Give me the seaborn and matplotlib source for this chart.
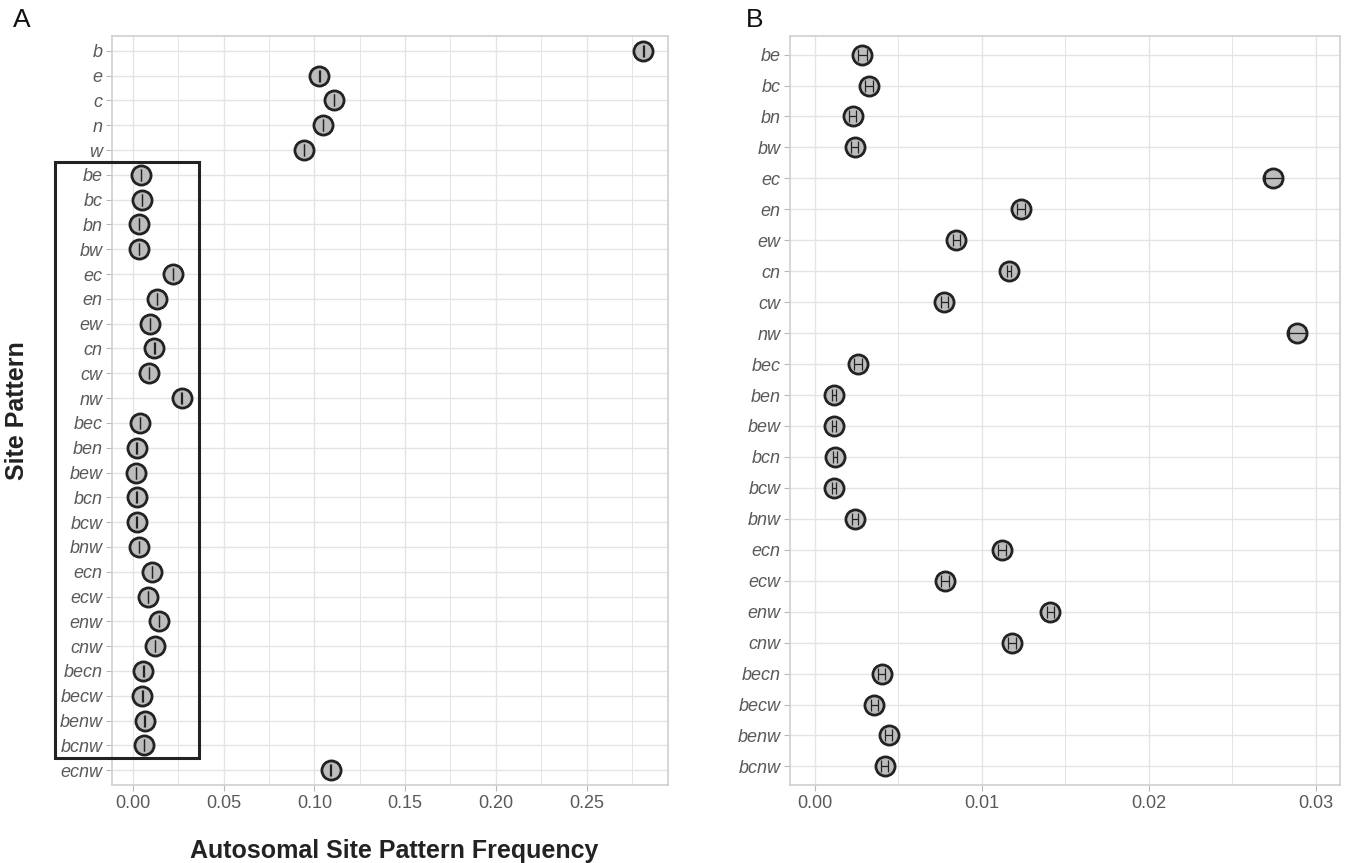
import numpy as np
import pandas as pd
import matplotlib
matplotlib.use("Agg")
import matplotlib.pyplot as plt
import matplotlib.transforms as mtransforms
from matplotlib.patches import Rectangle
from matplotlib.ticker import MultipleLocator
import seaborn as sns

# Panel A: all site patterns (autosomal)
patterns_a = ["b", "e", "c", "n", "w", "be", "bc", "bn", "bw", "ec", "en", "ew",
              "cn", "cw", "nw", "bec", "ben", "bew", "bcn", "bcw", "bnw", "ecn",
              "ecw", "enw", "cnw", "becn", "becw", "benw", "bcnw", "ecnw"]
freq_a = [0.2813, 0.1027, 0.1108, 0.1047, 0.0943, 0.0044, 0.0049, 0.0034, 0.0034,
          0.0222, 0.0131, 0.0094, 0.0118, 0.0089, 0.0268, 0.0039, 0.0020, 0.0017,
          0.0020, 0.0020, 0.0034, 0.0106, 0.0081, 0.0143, 0.0121, 0.0057, 0.0052,
          0.0064, 0.0059, 0.1089]
err_a = [0.0001] * 30

# Panel B: zoom on the boxed patterns
patterns_b = ["be", "bc", "bn", "bw", "ec", "en", "ew", "cn", "cw", "nw", "bec",
              "ben", "bew", "bcn", "bcw", "bnw", "ecn", "ecw", "enw", "cnw", "becn",
              "becw", "benw", "bcnw"]
freq_b = [0.00286, 0.00325, 0.00228, 0.00240, 0.02745, 0.01236, 0.00848, 0.01163,
          0.00775, 0.02890, 0.00259, 0.00116, 0.00116, 0.00124, 0.00116, 0.00242,
          0.01120, 0.00780, 0.01410, 0.01182, 0.00400, 0.00356, 0.00443, 0.00419]
err_b = [0.00025, 0.00025, 0.00022, 0.00022, 0.00050, 0.00022, 0.00020, 0.00010,
         0.00020, 0.00050, 0.00022, 0.00012, 0.00012, 0.00012, 0.00012, 0.00020,
         0.00025, 0.00022, 0.00020, 0.00022, 0.00022, 0.00020, 0.00022, 0.00022]

df_a = pd.DataFrame({"pattern": patterns_a, "freq": freq_a, "err": err_a})
df_b = pd.DataFrame({"pattern": patterns_b, "freq": freq_b, "err": err_b})
df_a["row"] = np.arange(len(df_a))
df_b["row"] = np.arange(len(df_b))

sns.set_theme(style="whitegrid")
plt.rcParams["font.family"] = ["Liberation Sans", "DejaVu Sans"]

fig = plt.figure(figsize=(13.5, 8.63), dpi=100)
W, H = 1350, 863
ax_a = fig.add_axes([112 / W, 1 - 785 / H, 556 / W, 749 / H])
ax_b = fig.add_axes([790 / W, 1 - 785 / H, 550 / W, 749 / H])

grid_col = "#e4e4e4"
text_col = "#595959"


def draw_panel(ax, df, xlim, major, minor):
    sns.scatterplot(data=df, x="freq", y="row", ax=ax, s=190, color="#bdbdbd",
                    edgecolor="#222222", linewidth=2.0, zorder=3, legend=False)
    ax.errorbar(df["freq"], df["row"], xerr=df["err"], fmt="none", ecolor="#222222",
                elinewidth=0.9, capsize=4.5, capthick=0.9, zorder=4)
    ax.set_yticks(df["row"])
    ax.set_yticklabels(df["pattern"], fontstyle="italic", color=text_col, fontsize=13)
    ax.set_ylim(len(df) - 0.4, -0.6)
    ax.set_xlim(*xlim)
    ax.xaxis.set_major_locator(MultipleLocator(major))
    ax.xaxis.set_minor_locator(MultipleLocator(minor))
    ax.xaxis.set_major_formatter(lambda v, p: f"{v:.2f}")
    ax.grid(which="major", color=grid_col, linewidth=1.0)
    ax.grid(which="minor", axis="x", color=grid_col, linewidth=0.7)
    ax.tick_params(axis="both", which="major", length=4, width=0.8, color="#b8b8b8",
                   labelsize=13, labelcolor=text_col, pad=3, left=True, bottom=True)
    ax.tick_params(which="minor", length=0)
    for sp in ax.spines.values():
        sp.set_color("#cfcfcf")
        sp.set_linewidth(1.2)
    ax.set_xlabel("")
    ax.set_ylabel("")


draw_panel(ax_a, df_a, (-0.0116, 0.2949), 0.05, 0.025)
draw_panel(ax_b, df_b, (-0.00148, 0.03145), 0.01, 0.005)

ax_a.set_ylabel("Site Pattern", fontsize=18, fontweight="bold", color="#222222")
ax_a.yaxis.set_label_coords(-0.149, 0.5)
ax_a.set_xlabel("Autosomal Site Pattern Frequency", fontsize=18, fontweight="bold",
                color="#222222")
ax_a.xaxis.set_label_coords(0.507, -0.072)

# box around the patterns shown in panel B
trans = mtransforms.blended_transform_factory(fig.transFigure, ax_a.transData)
box = Rectangle((55 / W, 4.5), 144 / W, 24, transform=trans, fill=False,
                edgecolor="#222222", linewidth=2.2, clip_on=False, zorder=5)
ax_a.add_patch(box)

fig.text(22 / W, 1 - 20 / H, "A", fontsize=19, ha="center", va="center", color="#111111")
fig.text(755 / W, 1 - 20 / H, "B", fontsize=19, ha="center", va="center", color="#111111")

fig.savefig("out.png", dpi=100)
